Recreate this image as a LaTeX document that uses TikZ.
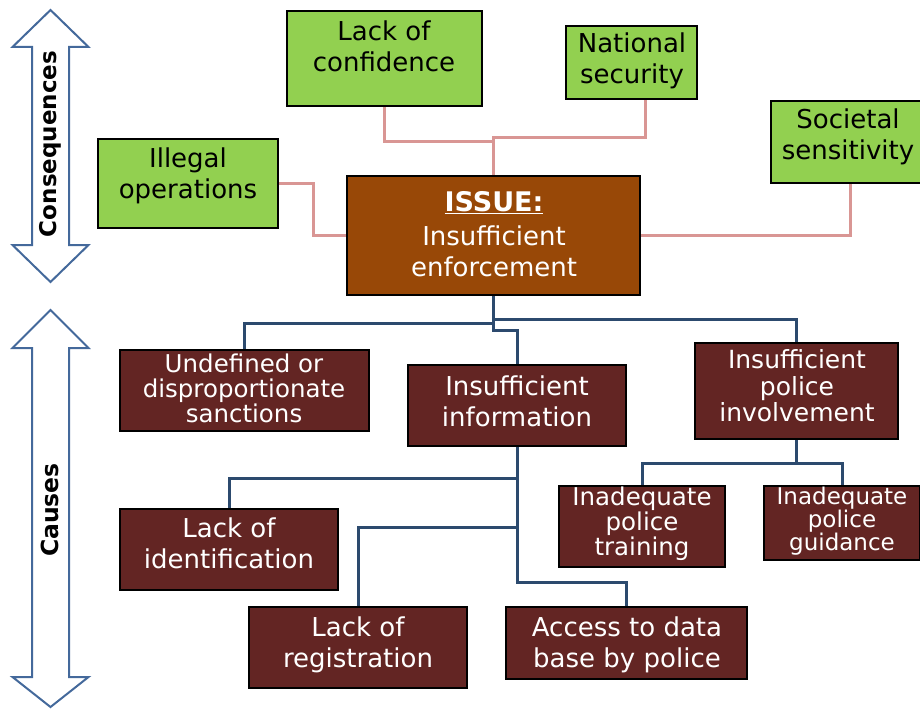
\documentclass[tikz,border=0pt]{standalone}
\usepackage{fontspec}
\setmainfont{DejaVu Sans}
\definecolor{leafgreen}{HTML}{92D050}
\definecolor{issuebrown}{HTML}{984807}
\definecolor{causered}{HTML}{632523}
\definecolor{linkpink}{HTML}{D99694}
\definecolor{linkblue}{HTML}{2C4A6E}
\definecolor{arrowblue}{HTML}{44699B}
\begin{document}
\begin{tikzpicture}[x=1pt,y=-1pt,
  box/.style={draw=black, line width=2.7pt, rectangle, inner sep=0pt},
  gbox/.style={box, fill=leafgreen},
  rbox/.style={box, fill=causered},
  ibox/.style={box, fill=issuebrown},
  txt/.style={align=center, inner sep=0pt, font=\fontsize{26}{31}\selectfont},
  wtxt/.style={txt, text=white},
  pinkline/.style={draw=linkpink, line width=3pt},
  blueline/.style={draw=linkblue, line width=3pt},
  bigarrow/.style={draw=arrowblue, line width=2pt, fill=white, line join=miter},
  sidelabel/.style={rotate=90, inner sep=0pt, font=\bfseries\fontsize{23}{28}\selectfont}]
\useasboundingbox (0,0) rectangle (920,709);
\clip (0,0) rectangle (920,709);

% double-headed side arrows
\draw[bigarrow] (50.5,10) -- (88.5,47) -- (69,47) -- (69,245) -- (88.5,245)
  -- (50.5,282) -- (12.5,245) -- (32,245) -- (32,47) -- (12.5,47) -- cycle;
\draw[bigarrow] (50.5,310) -- (88.5,348) -- (69,348) -- (69,677) -- (88.5,677)
  -- (50.5,707) -- (12.5,677) -- (32,677) -- (32,348) -- (12.5,348) -- cycle;
\node[sidelabel] (lblcons) at (50,144) {Consequences};
\node[sidelabel, font=\bfseries\fontsize{23.5}{28}\selectfont] (lblcause) at (50,510) {Causes};

% consequence boxes
\node[gbox, minimum width=195pt, minimum height=95pt] (conf) at (384.5,58.5) {};
\node[gbox, minimum width=131pt, minimum height=73pt] (nat) at (631.5,62.5) {};
\node[gbox, minimum width=154pt, minimum height=82pt] (soc) at (848,142) {};
\node[gbox, minimum width=180pt, minimum height=89pt] (ill) at (188,183.5) {};

% central issue
\node[ibox, minimum width=293pt, minimum height=119pt] (issue) at (493.5,235.5) {};

% cause boxes
\node[rbox, minimum width=249pt, minimum height=81pt] (undef) at (244.5,390.5) {};
\node[rbox, minimum width=218pt, minimum height=81pt] (info) at (517,405.5) {};
\node[rbox, minimum width=203pt, minimum height=96pt] (invol) at (796.5,391) {};
\node[rbox, minimum width=166pt, minimum height=81pt] (train) at (642,526.5) {};
\node[rbox, minimum width=156pt, minimum height=74pt] (guid) at (842,523) {};
\node[rbox, minimum width=218pt, minimum height=81pt] (ident) at (229,549.5) {};
\node[rbox, minimum width=218pt, minimum height=81pt] (reg) at (358,647.5) {};
\node[rbox, minimum width=241pt, minimum height=72pt] (access) at (626.5,643) {};

% texts
\node[txt] (conf-t) at (384,46) {Lack of\\confidence};
\node[txt] (nat-t) at (632,60.5) {National\\security};
\node[txt] (soc-t) at (848,136.5) {Societal\\sensitivity};
\node[txt] (ill-t) at (188,176) {Illegal\\operations};
\node[wtxt] (issue-t) at (494,234) {{\bfseries\fontsize{27}{31}\selectfont\underline{ISSUE:}}\\[3pt]Insufficient\\enforcement};
\node[wtxt, font=\fontsize{24.5}{25}\selectfont] (undef-t) at (244,388) {Undefined or\\disproportionate\\sanctions};
\node[wtxt] (info-t) at (517,401) {Insufficient\\information};
\node[wtxt, font=\fontsize{25}{26.5}\selectfont] (invol-t) at (797,386) {Insufficient\\police\\involvement};
\node[wtxt, font=\fontsize{24.5}{25}\selectfont] (train-t) at (642,523.5) {Inadequate\\police\\training};
\node[wtxt, font=\fontsize{23}{22}\selectfont] (guid-t) at (842,521) {Inadequate\\police\\guidance};
\node[wtxt] (ident-t) at (229,543.5) {Lack of\\identification};
\node[wtxt] (reg-t) at (358,644.5) {Lack of\\registration};
\node[wtxt] (access-t) at (627,644.5) {Access to data\\base by police};

% consequence links
\draw[pinkline] (conf.south) -- (conf.south |- 0,141.5) -- (issue.north |- 0,141.5);
\draw[pinkline] (nat.south -| 645,0) -- (645,137.5) -- (issue.north |- 0,137.5) -- (issue.north);
\draw[pinkline] (ill.east) -- (ill.east -| 313,0) |- (issue.west);
\draw[pinkline] (soc.south -| 850,0) |- (issue.east);

% cause links
\draw[blueline] (issue.south) -- (issue.south |- 0,330) -| (info.north);
\draw[blueline] (issue.south |- 0,323) -| (undef.north);
\draw[blueline] (issue.south |- 0,319) -| (invol.north);
\draw[blueline] (info.south) -- (info.south |- 0,582) -| (access.north);
\draw[blueline] (info.south |- 0,478) -| (ident.north);
\draw[blueline] (info.south |- 0,527) -| (reg.north);
\draw[blueline] (invol.south) -- (invol.south |- 0,463) -| (train.north);
\draw[blueline] (invol.south |- 0,463) -| (guid.north);
\end{tikzpicture}
\end{document}
